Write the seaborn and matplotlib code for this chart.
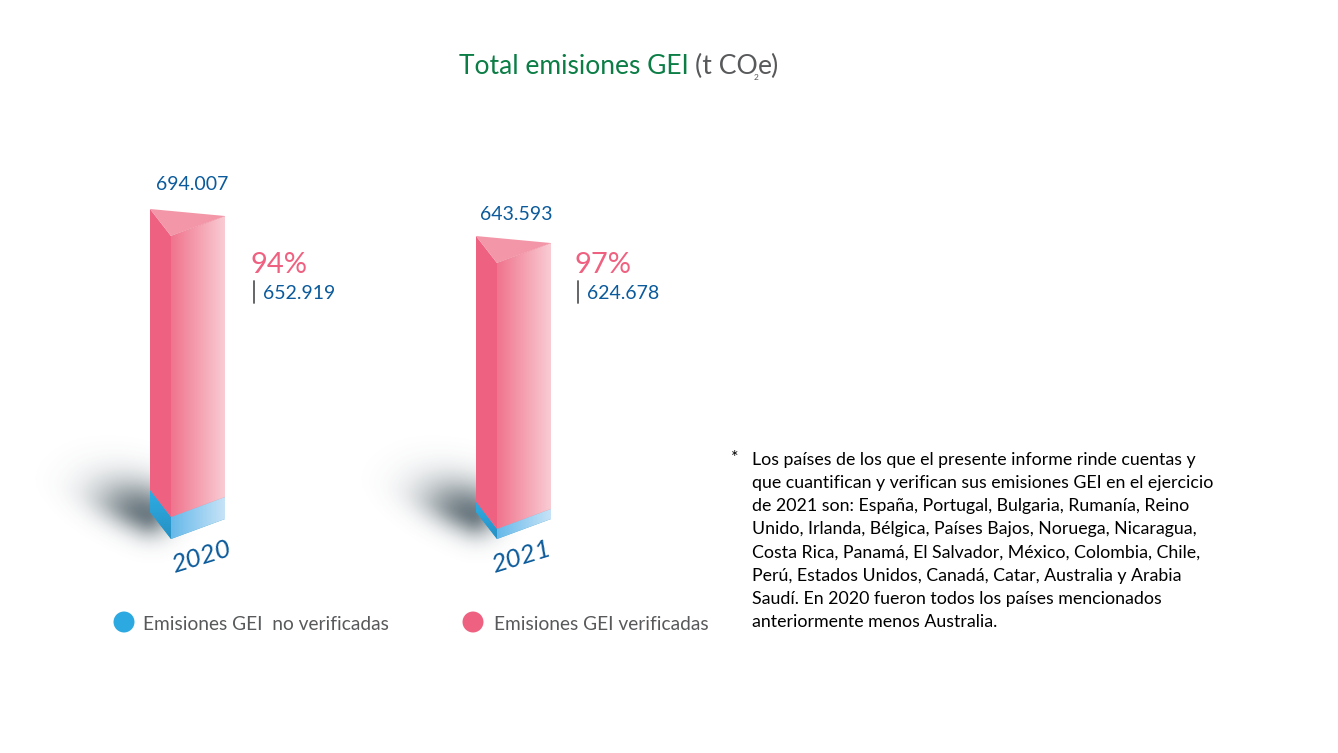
import numpy as np
import pandas as pd
import matplotlib
matplotlib.use("Agg")
import matplotlib.pyplot as plt
from matplotlib.colors import LinearSegmentedColormap, to_rgb
from matplotlib.transforms import Affine2D
import seaborn as sns

# Data
years = ["2020", "2021"]
verified = [652919, 624678]
unverified = [41088, 18915]
totals = [694007, 643593]
verified_pct = [94, 97]
legend_labels = ["Emisiones GEI  no verificadas", "Emisiones GEI verificadas"]
note_lines = [
    "Los países de los que el presente informe rinde cuentas y",
    "que cuantifican y verifican sus emisiones GEI en el ejercicio",
    "de 2021 son: España, Portugal, Bulgaria, Rumanía, Reino",
    "Unido, Irlanda, Bélgica, Países Bajos, Noruega, Nicaragua,",
    "Costa Rica, Panamá, El Salvador, México, Colombia, Chile,",
    "Perú, Estados Unidos, Canadá, Catar, Australia y Arabia",
    "Saudí. En 2020 fueron todos los países mencionados",
    "anteriormente menos Australia.",
]

GREEN = "#0B7D45"
GREY = "#58595B"
BLUE_TEXT = "#0B5A9B"
PINK = "#EF6180"
BLUE = "#2CA9E1"

# the picture cuts the bars: the pink part loses this much, the blue part is to scale
AXIS_CUT = 128700
PX_PER_T = 0.000536
PX_PER_CAT = 326
X0_PX, Y0_PX = 198, 539
FACE_W, FACE_RISE = 54, 20
LEFT_W, LEFT_RISE = 21, 27

sns.set_theme(style="white")
plt.rcParams["font.family"] = ["Lato", "DejaVu Sans"]

df = pd.DataFrame({"year": years,
                   "blue": unverified,
                   "pink": [v - AXIS_CUT for v in verified]})

W, H = 1338, 753
fig = plt.figure(figsize=(W / 100, H / 100), dpi=100, facecolor="white")
ax = fig.add_axes([0, 0, 1, 1])

# right faces of the bars
sns.barplot(data=df, x="year", y="blue", color=BLUE, width=FACE_W / PX_PER_CAT,
            linewidth=0, errorbar=None, ax=ax, zorder=3)
sns.barplot(data=df, x="year", y="pink", bottom=df["blue"], color=PINK,
            width=FACE_W / PX_PER_CAT, linewidth=0, errorbar=None, ax=ax, zorder=3)

ax.set_xlim(-X0_PX / PX_PER_CAT, (W - X0_PX) / PX_PER_CAT)
ax.set_ylim(-(H - Y0_PX) / PX_PER_T, Y0_PX / PX_PER_T)
ax.axis("off")

dx = 1 / PX_PER_CAT   # one pixel in data units
dy = 1 / PX_PER_T
ramp = np.linspace(0, 1, 64).reshape(1, -1)
pink_map = LinearSegmentedColormap.from_list("p", ["#F0748D", "#F9CBD3"])
blue_map = LinearSegmentedColormap.from_list("b", ["#66B9EA", "#C6E3F7"])
left_blue = LinearSegmentedColormap.from_list("l", ["#2790C2", "#2EADE5"])

n = len(years)
for k, bar in enumerate(ax.patches):
    i = k % n
    cmap = blue_map if k < n else pink_map
    x, w = bar.get_x(), bar.get_width()
    y, h = bar.get_y(), bar.get_height()

    # shear the bar so the face runs up to the right
    xf = X0_PX + PX_PER_CAT * x
    shear = Affine2D.from_values(1, FACE_RISE / FACE_W, 0, 1, 0,
                                 -xf * FACE_RISE / FACE_W)
    bar.set_transform(ax.transData + shear)

    im = ax.imshow(ramp, extent=[x, x + w, y - 5 * dy, y + h + FACE_RISE * dy + 5 * dy],
                   aspect="auto", cmap=cmap, interpolation="bilinear", zorder=4)
    im.set_clip_path(bar.get_path(), bar.get_transform())

    # left face
    xs = [x, x, x - LEFT_W * dx, x - LEFT_W * dx]
    ys = [y, y + h, y + h + LEFT_RISE * dy, y + LEFT_RISE * dy]
    if k < n:
        poly = ax.fill(xs, ys, color=BLUE, lw=0, zorder=3)[0]
        im2 = ax.imshow(np.linspace(0, 1, 32).reshape(-1, 1), origin="lower",
                        extent=[x - LEFT_W * dx, x, y, y + h + LEFT_RISE * dy],
                        aspect="auto", cmap=left_blue, interpolation="bilinear", zorder=4)
        im2.set_clip_path(poly)
    else:
        ax.fill(xs, ys, color=PINK, lw=0, zorder=4)
        # top triangle
        top = y + h
        ax.fill([x, x - LEFT_W * dx, x + w],
                [top, top + LEFT_RISE * dy, top + FACE_RISE * dy],
                color="#F396A8", lw=0, zorder=4)

# soft shadow on the floor
px_u = np.arange(-170, 50)
px_v = np.arange(-40, 110)
gx, gy = np.meshgrid(px_u, px_v)
cx, cy = -24, 24
ux, uy = 0.93, -0.37
u = (gx - cx) * ux + (gy - cy) * uy
v = (gx - cx) * (-uy) + (gy - cy) * ux
su = np.where(u < 0, 52, 24)
sv = np.where(v < 0, 21, 31)
r = np.sqrt((u / su) ** 2 + (v / sv) ** 2)
alpha = 0.74 * np.exp(-r ** 2)
rgba = np.zeros(alpha.shape + (4,))
rgba[..., :3] = to_rgb("#3A4C56")
rgba[..., 3] = alpha
for i in range(n):
    x = i - FACE_W / PX_PER_CAT / 2
    ax.imshow(rgba, origin="lower", aspect="auto", interpolation="bilinear", zorder=1,
              extent=[x + px_u[0] * dx, x + px_u[-1] * dx,
                      px_v[0] * dy, px_v[-1] * dy])

ax.set_xlim(-X0_PX / PX_PER_CAT, (W - X0_PX) / PX_PER_CAT)
ax.set_ylim(-(H - Y0_PX) / PX_PER_T, Y0_PX / PX_PER_T)

# text layer in pixel coordinates
ann = fig.add_axes([0, 0, 1, 1])
ann.set_xlim(0, W)
ann.set_ylim(H, 0)
ann.axis("off")
ann.patch.set_alpha(0)

def fmt(value):
    return f"{value:,}".replace(",", ".")

ann.text(459, 74, "Total emisiones GEI", color=GREEN, fontsize=19, va="baseline")
ann.text(695, 74, "(t CO", color=GREY, fontsize=19.2, va="baseline")
ann.text(754, 80, "2", color=GREY, fontsize=6, va="baseline")
ann.text(757.5, 74, "e)", color=GREY, fontsize=19.2, va="baseline")

total_xy = [(192.5, 184), (516.5, 214)]
pct_x = [251, 575]
for i in range(n):
    ann.text(*total_xy[i], fmt(totals[i]), color=BLUE_TEXT, fontsize=14,
             ha="center", va="center")
    ann.text(pct_x[i], 265, f"{verified_pct[i]}%", color=PINK, fontsize=21,
             va="center")
    ann.plot([pct_x[i] + 3, pct_x[i] + 3], [281, 303], color=GREY, lw=1.3)
    ann.text(pct_x[i] + 12, 293, fmt(verified[i]), color=BLUE_TEXT, fontsize=14,
             va="center")

year_xy = [(201, 557), (521, 557)]
for i in range(n):
    ann.text(*year_xy[i], years[i], color=BLUE_TEXT, fontsize=19, style="italic",
             rotation=17, rotation_mode="anchor", ha="center", va="center")

ann.scatter([124, 473], [622, 622], s=228, c=[BLUE, PINK], linewidths=0)
ann.text(143, 624, legend_labels[0], color=GREY, fontsize=13.8, va="center")
ann.text(494, 624, legend_labels[1], color=GREY, fontsize=13.8, va="center")

ann.text(731, 458, "*", color="black", fontsize=12.8, va="center")
for j, line in enumerate(note_lines):
    ann.text(752, 460 + j * 23.1, line, color="black", fontsize=12.8, va="center")

fig.savefig("out.png", dpi=100, facecolor="white")
